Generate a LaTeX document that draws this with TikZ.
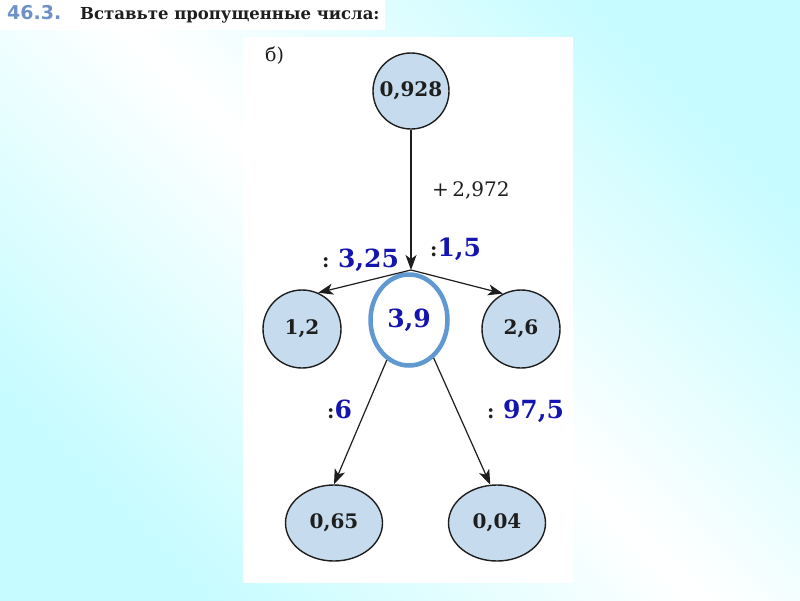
\documentclass[tikz,border=0pt]{standalone}
\usepackage{fontspec}
\setmainfont{DejaVu Serif}
\newfontfamily\numfont{DejaVu Sans}
\usepackage{tikz}
\usetikzlibrary{arrows.meta,shapes.geometric,positioning}
\tikzset{>={Stealth[length=15pt,width=11pt,inset=4pt]}}
\definecolor{bgcyan}{RGB}{198,252,255}
\definecolor{ballfill}{RGB}{198,220,238}
\definecolor{ink}{RGB}{30,30,30}
\definecolor{ansblue}{RGB}{20,20,175}
\definecolor{ringblue}{RGB}{96,152,210}
\definecolor{numgray}{RGB}{110,145,200}
\newcommand{\ans}[1]{\textcolor{ansblue}{\fontsize{25}{25}\selectfont\bfseries #1}}

\begin{document}
\begin{tikzpicture}[x=1pt,y=-1pt,
    ball/.style={circle,draw=ink,line width=1.4pt,fill=ballfill,inner sep=0pt,minimum size=#1,
      text=ink,font=\fontsize{20}{20}\selectfont\bfseries},
    egg/.style={ellipse,draw=ink,line width=1.4pt,fill=ballfill,inner sep=0pt,
      minimum width=97pt,minimum height=76pt,text=ink,font=\fontsize{20}{20}\selectfont\bfseries},
    lbl/.style={anchor=base west,inner sep=0pt,text=ink,font=\fontsize{20}{20}\selectfont}]
    \useasboundingbox (0,0) rectangle (800,600);
    \shade[top color=bgcyan,bottom color=bgcyan,middle color=white,shading angle=-45] (0,0) rectangle (800,600);
    \fill[white] (0,0) rectangle (385,30);
    \fill[white] (243,37) rectangle (573,583);
    \node[text=numgray,font=\numfont\fontsize{19}{19}\selectfont\bfseries,inner sep=0pt,anchor=base west] (num) at (7,19) {46.3.};
    \node[lbl,font=\fontsize{16.5}{16.5}\selectfont\bfseries] (title) at (80,19) {Вставьте пропущенные числа:};
    \node[lbl,font=\fontsize{19}{19}\selectfont] (part) at (265,61) {б)};
    \node[ball=76pt] (top) at (411,91) {0,928};
    \node[ball=78pt] (l) at (302,329) {1,2};
    \node[ball=78pt] (r) at (521,329) {2,6};
    \node[ellipse,draw=ringblue,line width=4.5pt,fill=white,inner sep=0pt,minimum width=77pt,minimum height=91pt,
      text=ansblue,font=\fontsize{25}{25}\selectfont\bfseries] (mid) at (409,320) {3,9};
    \node[egg] (bl) at (334,523) {0,65};
    \node[egg] (br) at (497,523) {0,04};
    \coordinate (j) at (411,270);
    \draw[->,ink,line width=1.2pt] (top) -- (j);
    \draw[->,ink,line width=1.2pt] (j) -- (l.66);
    \draw[->,ink,line width=1.2pt] (j) -- (r.117);
    \draw[->,ink,line width=1.2pt] (mid.241) -- (bl.north);
    \draw[->,ink,line width=1.2pt] (mid.303) -- (br.100);
    \node[lbl] (add) at (432,196) {+\,2,972};
    \node[lbl] (dl) at (322,267) {\textbf{:} \ans{3,25}};
    \node[lbl] (dr) at (430,256) {\textbf{:}\ans{1,5}};
    \node[lbl] (dbl) at (327,418) {\textbf{:}\ans{6}};
    \node[lbl] (dbr) at (487,418) {\textbf{:} \ans{97,5}};
\end{tikzpicture}
\end{document}
